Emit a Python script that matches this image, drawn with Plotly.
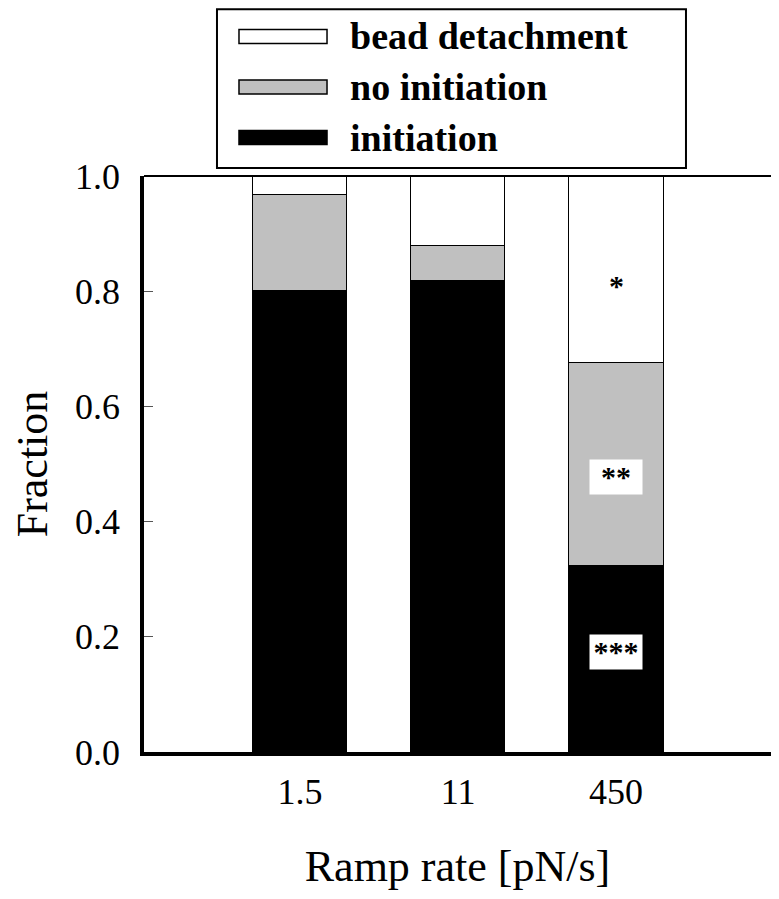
import plotly.graph_objects as go

# data
ramp_rates = ["1.5", "11", "450"]
initiation = [0.800, 0.817, 0.323]
no_initiation = [0.167, 0.061, 0.352]
bead_detachment = [0.033, 0.122, 0.325]

series_names = ["initiation", "no initiation", "bead detachment"]
series_colors = ["#000000", "#c0c0c0", "#ffffff"]
y_ticks = [0.0, 0.2, 0.4, 0.6, 0.8, 1.0]

# significance marks on the 450 bar, with their heights
stars = ["*", "**", "***"]
stars_y = [0.81, 0.478, 0.174]

serif = "Liberation Serif, Times New Roman, serif"
xpos = list(range(len(ramp_rates)))

fig = go.Figure()
for name, vals, col in zip(series_names, [initiation, no_initiation, bead_detachment], series_colors):
    fig.add_trace(go.Bar(
        x=xpos, y=vals, name=name, width=0.6,
        marker=dict(color=col, line=dict(color="black", width=1.5)),
        showlegend=False,
    ))

last = len(ramp_rates) - 1
for txt, ym in zip(stars, stars_y):
    boxed = len(txt) > 1
    fig.add_annotation(
        x=last, y=ym, text="<b>%s</b>" % txt, showarrow=False,
        font=dict(family=serif, size=30, color="black"),
        bgcolor="white" if boxed else None,
        width=50 if boxed else None, height=32 if boxed else None,
        valign="bottom",
    )

# hand made legend box above the plot (wide swatches like the original)
fig.add_shape(type="rect", xref="paper", yref="paper",
              x0=0.1164, x1=0.8644, y0=1.0139, y1=1.2895,
              line=dict(color="black", width=2), fillcolor="white")
legend_rows = [("bead detachment", "#ffffff", 1.2422), ("no initiation", "#c0c0c0", 1.1545), ("initiation", "#000000", 1.0668)]
for label, col, yc in legend_rows:
    fig.add_shape(type="rect", xref="paper", yref="paper",
                  x0=0.1515, x1=0.2919, y0=yc - 0.0122, y1=yc + 0.0122,
                  line=dict(color="black", width=1.5), fillcolor=col)
    fig.add_annotation(xref="paper", yref="paper", x=0.3254, y=yc,
                       text="<b>%s</b>" % label, showarrow=False,
                       xanchor="left", yanchor="middle",
                       font=dict(family=serif, size=38, color="black"))

# thinner top edge of the frame
fig.add_shape(type="line", xref="paper", yref="paper", x0=0, x1=1, y0=1, y1=1,
              line=dict(color="black", width=2))

fig.update_layout(
    width=779, height=899,
    margin=dict(l=136, r=16, t=168, b=155),
    plot_bgcolor="white", paper_bgcolor="white",
    barmode="stack", bargap=0,
    font=dict(family=serif, color="black"),
)
fig.update_xaxes(
    range=[-0.987, 2.98], tickvals=xpos, ticktext=ramp_rates,
    showline=True, linecolor="black", linewidth=3.5, mirror=False,
    ticks="", showgrid=False, zeroline=False, automargin=False,
    tickfont=dict(size=36), ticklabelstandoff=5,
    title=dict(text="Ramp rate [pN/s]", font=dict(size=44), standoff=40),
)
fig.update_yaxes(
    range=[0, 1.0], tickvals=y_ticks, ticktext=["%.1f" % v for v in y_ticks],
    showline=True, linecolor="black", linewidth=3.5, mirror=True,
    ticks="inside", ticklen=9, tickwidth=1, tickcolor="#555555",
    showgrid=False, zeroline=False, automargin=False,
    tickfont=dict(size=36), ticklabelstandoff=13,
    title=dict(text="Fraction", font=dict(size=44), standoff=34),
)

fig.write_html("out.html")
